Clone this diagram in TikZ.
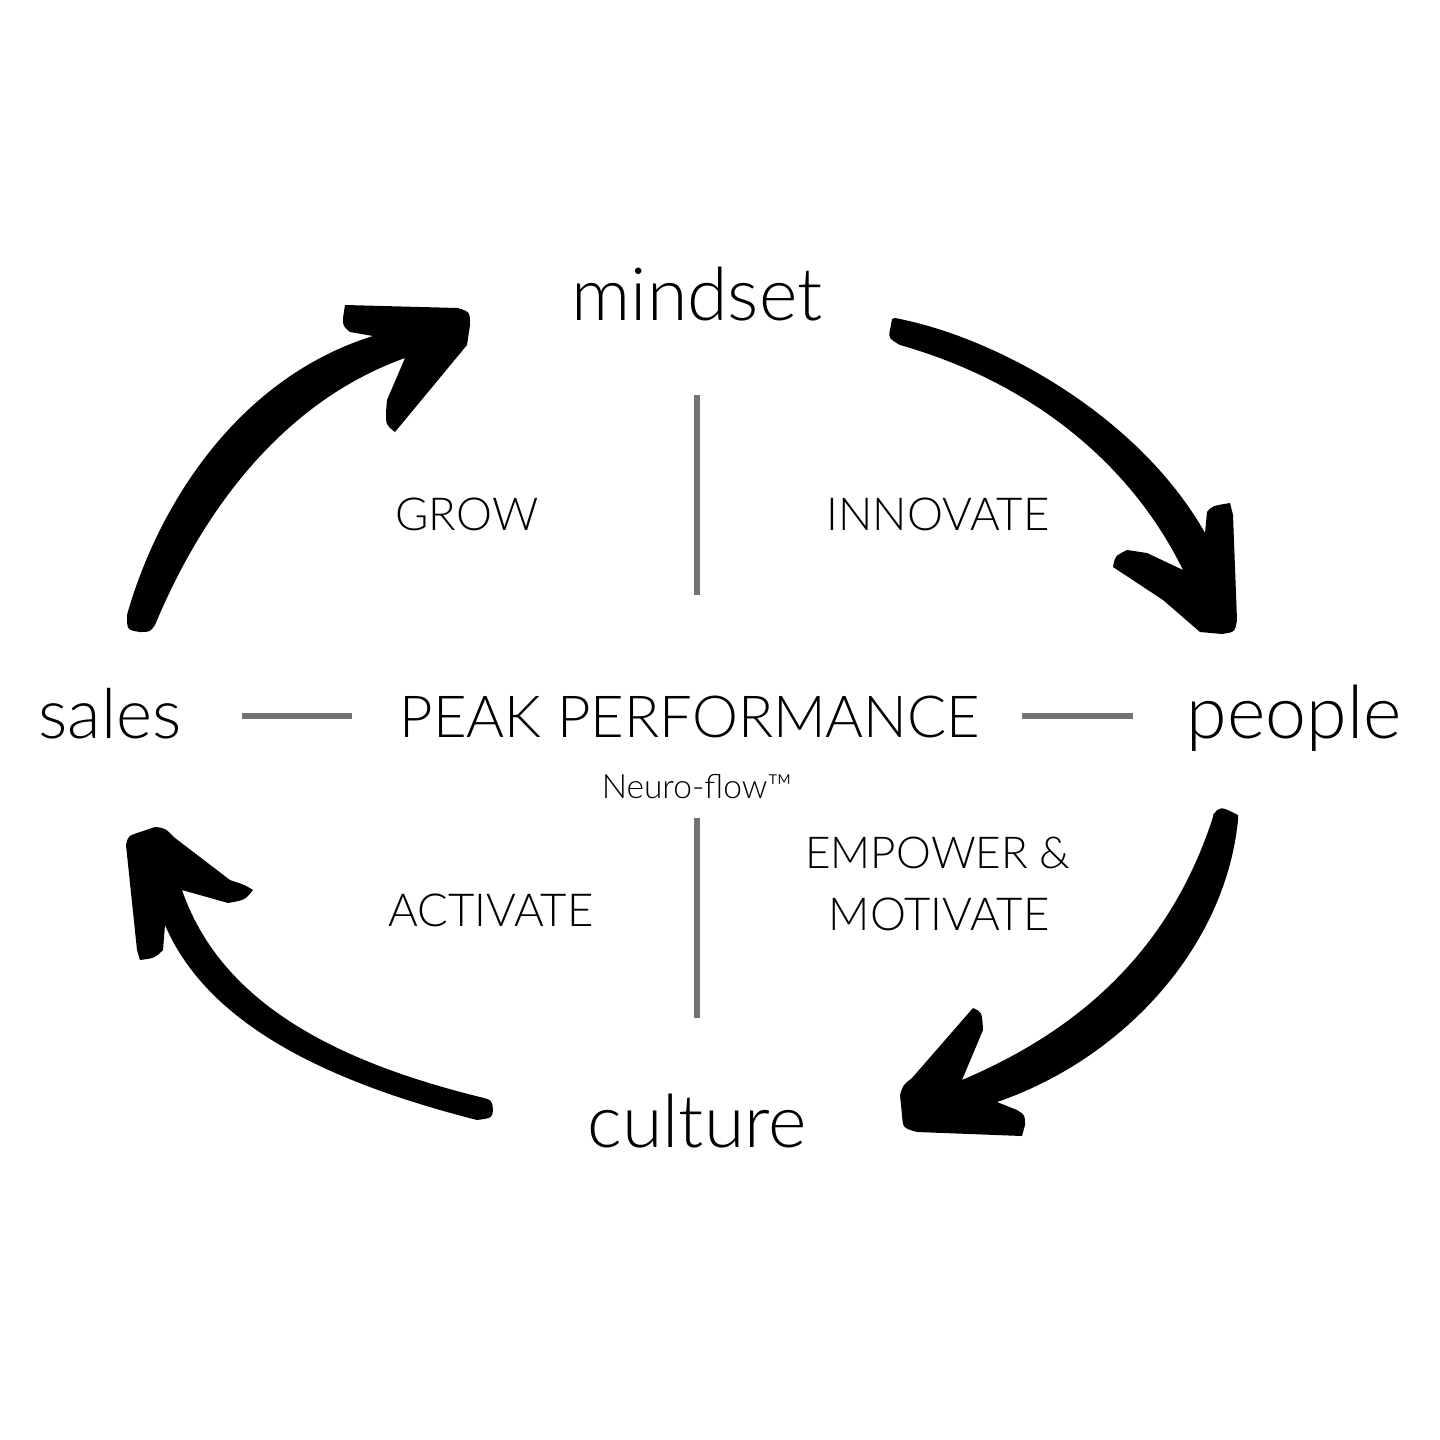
\documentclass[tikz,border=0pt]{standalone}
\usepackage{fontspec}
\IfFontExistsTF{Lato Light}{\setmainfont{Lato Light}}{\setmainfont{Lato}}
\begin{document}
\begin{tikzpicture}[x=1pt,y=-1pt,
  big/.style={anchor=base,inner sep=0pt,font=\fontsize{73.5}{80}\selectfont},
  mid/.style={anchor=base,inner sep=0pt,font=\fontsize{58}{64}\selectfont},
  lab/.style={anchor=base,inner sep=0pt,font=\fontsize{45.5}{50}\selectfont},
  small/.style={anchor=base,inner sep=0pt,font=\fontsize{33.5}{36}\selectfont},
  bar/.style={draw=black!55,line width=6pt},
  blob/.style={fill=black,draw=none}]
\useasboundingbox (0,0) rectangle (1440,1440);
\fill[white] (0,0) rectangle (1440,1440);
% words
\node[big] (mindset) at (697,320) {mindset};
\node[big] (people) at (1294,738) {people};
\node[big,font=\fontsize{69}{80}\selectfont] (sales) at (110,738) {sales};
\node[big] (culture) at (697,1147) {culture};
\node[mid] (peak) at (690,737) {PEAK PERFORMANCE};
\node[small] (neuro) at (697,798) {Neuro-flow™};
\node[lab] (grow) at (467,530) {GROW};
\node[lab] (innovate) at (938,530) {INNOVATE};
\node[lab] (activate) at (491,926) {ACTIVATE};
\node[lab,font=\fontsize{44}{50}\selectfont] (empower) at (938,868) {EMPOWER \&};
\node[lab] (motivate) at (939,930) {MOTIVATE};
% gray bars
\draw[bar] (697,395) -- (697,595);
\draw[bar] (697,818) -- (697,1018);
\draw[bar] (242,716) -- (352,716);
\draw[bar] (1022,716) -- (1133,716);
% arrow sales -> mindset
\path[blob] (127,615) .. controls (158,505) and (238,378) .. (373,336)
  -- (350,332) .. controls (343,326) .. (343,318) -- (345,305) -- (458,308)
  .. controls (470,312) .. (470,325) -- (467,345) -- (395,432)
  .. controls (386,425) .. (386,412) -- (387,400) -- (405,358)
  .. controls (282,402) and (202,512) .. (155,625)
  .. controls (150,632) .. (140,632) .. controls (127,630) .. cycle;
% arrow mindset -> people
\path[blob] (895,318) .. controls (1000,338) and (1140,418) .. (1205,533)
  -- (1207,512) .. controls (1212,506) .. (1230,503) -- (1233,515) -- (1237,620)
  .. controls (1235,632) .. (1222,634) -- (1200,632) -- (1163,600) -- (1113,567)
  .. controls (1115,556) .. (1127,550) -- (1147,553) -- (1183,570)
  .. controls (1130,462) and (1030,382) .. (900,345)
  .. controls (888,338) .. (891,325) .. controls (892,318) .. cycle;
% arrow people -> culture
\path[blob] (1213,815) .. controls (1220,806) .. (1238,815)
  -- (1238,820) .. controls (1225,950) and (1120,1060) .. (997,1102)
  -- (1017,1110) .. controls (1025,1115) .. (1025,1125) -- (1022,1136) -- (917,1132)
  .. controls (903,1128) .. (902,1115) -- (900,1095) .. controls (903,1085) .. (912,1078)
  -- (973,1008) .. controls (982,1012) .. (983,1030) -- (962,1080)
  .. controls (1080,1030) and (1170,950) .. (1213,817) -- cycle;
% arrow culture -> sales
\path[blob] (480,1097) .. controls (492,1100) .. (493,1110) .. controls (492,1118) .. (477,1120)
  .. controls (340,1085) and (210,1030) .. (165,925)
  -- (163,950) .. controls (155,958) .. (140,960) -- (137,950) -- (126,845)
  .. controls (128,836) .. (140,832) -- (155,827) .. controls (165,828) .. (175,838)
  -- (230,880) .. controls (245,885) .. (253,890) .. controls (245,900) .. (228,903)
  -- (182,890) .. controls (220,1000) and (330,1060) .. (480,1097) -- cycle;
\end{tikzpicture}
\end{document}
